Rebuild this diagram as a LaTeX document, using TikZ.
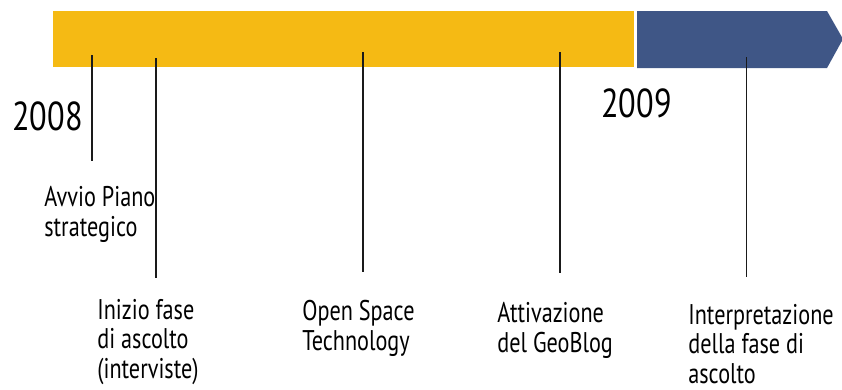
\documentclass[tikz,border=0pt]{standalone}
\usepackage{fontspec}
\setmainfont{PT Sans}[FakeStretch=0.78]
\newfontfamily\yearfont{PT Sans}[FakeStretch=0.80]
\usetikzlibrary{positioning}
\definecolor{BarYellow}{HTML}{F5BA14}
\definecolor{BarBlue}{HTML}{3F5686}
\definecolor{TickDark}{HTML}{1A1A1A}
\tikzset{
  event/.style={anchor=base west, align=left, inner sep=0pt, font=\fontsize{16.2}{16.7}\selectfont},
  yearlabel/.style={anchor=base west, inner sep=0pt, font=\yearfont\fontsize{23}{25}\selectfont},
  tickline/.style={TickDark, line width=1pt}
}

\begin{document}
\begin{tikzpicture}
\useasboundingbox (0,0) rectangle (16.84,-7.78);
% the two phases
\fill[BarYellow] (1.06,-0.22) rectangle (12.68,-1.34);
\fill[BarBlue] (12.74,-0.22) -- (16.54,-0.22) -- (16.86,-0.78) -- (16.54,-1.36) -- (12.74,-1.36) -- cycle;
% years
\node[yearlabel] (y08) at (0.24,-2.60) {2008};
\node[yearlabel] (y09) at (12.02,-2.34) {2009};
% events (placed by the baseline of their last line)
\node[event] (avvio) at (0.88,-4.72) {Avvio Piano\\strategico};
\node[event] (inizio) at (1.94,-7.56) {Inizio fase\\di ascolto\\(interviste)};
\node[event] (ost) at (6.04,-7.00) {Open Space\\Technology};
\node[event] (geoblog) at (9.94,-7.04) {Attivazione\\del GeoBlog};
\node[event] (interp) at (13.76,-7.66) {Interpretazione\\della fase di\\ascolto};
% ticks
\coordinate (t1) at (1.84,-1.10);  \coordinate (b1) at (1.84,-3.22);
\coordinate (t2) at (3.12,-1.16);  \coordinate (b2) at (3.12,-5.56);
\coordinate (t3) at (7.26,-1.04);  \coordinate (b3) at (7.26,-5.44);
\coordinate (t4) at (11.20,-1.04); \coordinate (b4) at (11.20,-5.46);
\coordinate (t5) at (14.93,-1.14); \coordinate (b5) at (14.93,-5.54);
\foreach \i in {1,...,5}
  \draw[tickline] (t\i) -- (b\i);
\end{tikzpicture}
\end{document}
